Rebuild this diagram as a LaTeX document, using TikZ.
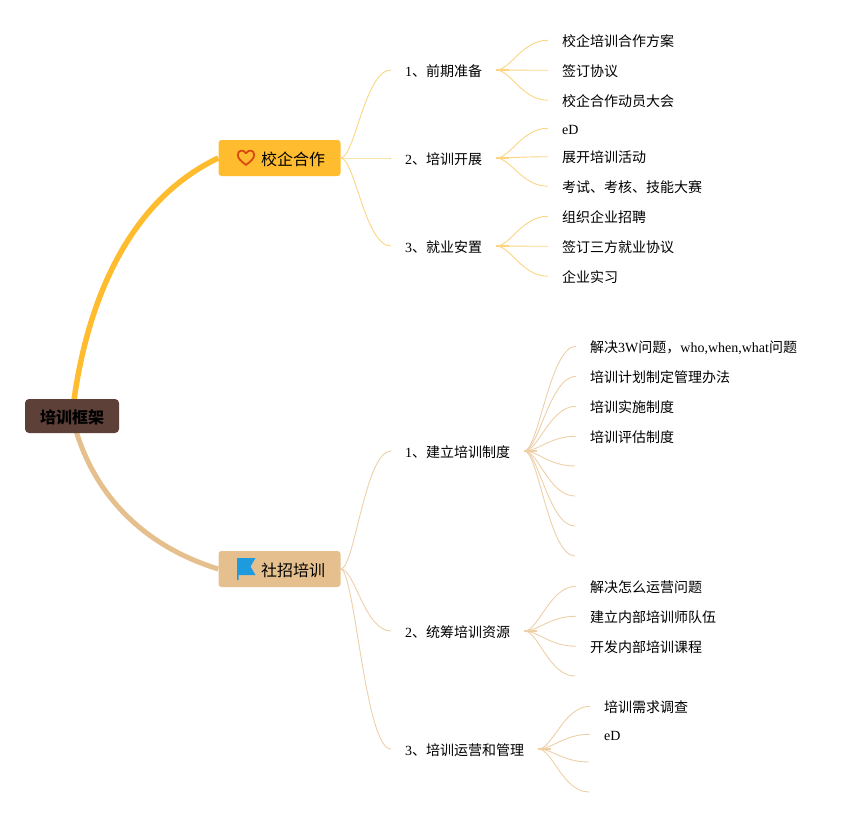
\documentclass[tikz,border=0pt]{standalone}
\usetikzlibrary{backgrounds}
\usepackage{fontspec}
\setmainfont{Liberation Serif}
\newfontfamily\zhf{Noto Sans CJK SC}
\newcommand{\zh}[1]{{\zhf #1}}
\definecolor{rootc}{HTML}{5D4037}
\definecolor{gold}{HTML}{FFBC2F}
\definecolor{tan}{HTML}{E5C08E}
\definecolor{goldl}{HTML}{FBD583}
\definecolor{tanl}{HTML}{EDCFA8}
\definecolor{heartc}{HTML}{D84A12}
\definecolor{flagc}{HTML}{1E9BDF}
\tikzset{
  x=1pt,y=-1pt,
  rootbox/.style={fill=rootc,rounded corners=4pt,minimum width=94pt,minimum height=34pt,inner sep=0pt,text height=14pt,text depth=0pt,font=\fontsize{16}{18}\selectfont\bfseries},
  topbox/.style={rounded corners=3pt,minimum width=122pt,minimum height=36pt,inner sep=0pt,text height=14pt,text depth=0pt,font=\fontsize{16}{18}\selectfont},
  item/.style={anchor=west,inner xsep=14pt,inner ysep=0pt,text height=13pt,text depth=1pt,font=\fontsize{14}{16}\selectfont},
  bigG/.style={draw=gold,line width=5.5pt},
  bigT/.style={draw=tan,line width=5pt},
  thinG/.style={draw=goldl,line width=.9pt},
  thinT/.style={draw=tanl,line width=.9pt},
  stubG/.style={draw=goldl,line width=1.6pt},
  stubT/.style={draw=tanl,line width=1.6pt},
}
\newcommand{\cv}[3]{\draw[#1] (#2) .. controls +(14,0) and +(-26,0) .. (#3);}
\begin{document}
\begin{tikzpicture}
\useasboundingbox (0,0) rectangle (857,817);
\node[rootbox] (root) at (72,416) {\zh{培训框架}};
\node[topbox,fill=gold] (a) at (279.5,158) {\hspace*{27pt}\zh{校企合作}};
\node[topbox,fill=tan] (b) at (279.5,569) {\hspace*{27pt}\zh{社招培训}};
\begin{scope}[on background layer]
\draw[bigG] (root.center) .. controls (85,300) and (130,200) .. (a.west);
\draw[bigT] (root.center) .. controls (92,500) and (150,548) .. (b.west);
\end{scope}
% icons
\draw[heartc,line width=1.8pt,line join=round] (246,165) .. controls (241,161) and (237.8,158.5) .. (237.8,154.8)
  .. controls (237.8,150) and (243.5,149) .. (246,153.3) .. controls (248.5,149) and (254.2,150) .. (254.2,154.8)
  .. controls (254.2,158.5) and (251,161) .. (246,165) -- cycle;
\fill[flagc] (237,558) -- (255.5,558) -- (250.5,566.5) -- (255.5,575) -- (238.5,575) -- (238.5,580) -- (237,580) -- cycle;
% second level, upper
\node[item] (a1) at (391,70) {1\zh{、前期准备}};
\node[item] (a3) at (391,158) {2\zh{、培训开展}};
\node[item] (a5) at (391,246) {3\zh{、就业安置}};
\foreach \n in {a1,a3,a5}{\cv{thinG}{a.east}{\n.west}}
% leaves, upper
\node[item] (a11) at (548,40.25) {\zh{校企培训合作方案}};
\node[item] (a12) at (548,70.25) {\zh{签订协议}};
\node[item] (a13) at (548,100.25) {\zh{校企合作动员大会}};
\node[item] (a31) at (548,128.25) {eD};
\node[item] (a32) at (548,156.75) {\zh{展开培训活动}};
\node[item] (a33) at (548,186.25) {\zh{考试、考核、技能大赛}};
\node[item] (a51) at (548,216.25) {\zh{组织企业招聘}};
\node[item] (a52) at (548,246.25) {\zh{签订三方就业协议}};
\node[item] (a53) at (548,276.25) {\zh{企业实习}};
\foreach \p in {a1,a3,a5}{
  \draw[stubG] (\p.east) -- ++(13,0);
  \foreach \k in {1,2,3}{\cv{thinG}{\p.east}{\p\k.west}}
}
% second level, lower
\node[item] (b1) at (391,451) {1\zh{、建立培训制度}};
\node[item] (b2) at (391,631) {2\zh{、统筹培训资源}};
\node[item] (b3) at (391,749) {3\zh{、培训运营和管理}};
\foreach \n in {b1,b2,b3}{\cv{thinT}{b.east}{\n.west}}
% leaves, lower
\node[item] (b11) at (576,346.25) {\zh{解决}3W\zh{问题，}who,when,what\zh{问题}};
\node[item] (b12) at (576,376.25) {\zh{培训计划制定管理办法}};
\node[item] (b13) at (576,406.25) {\zh{培训实施制度}};
\node[item] (b14) at (576,436.25) {\zh{培训评估制度}};
\coordinate (b15) at (575,466);
\coordinate (b16) at (575,496);
\coordinate (b17) at (575,526);
\coordinate (b18) at (575,556);
\node[item] (c1) at (576,586.25) {\zh{解决怎么运营问题}};
\node[item] (c2) at (576,616.25) {\zh{建立内部培训师队伍}};
\node[item] (c3) at (576,646.25) {\zh{开发内部培训课程}};
\coordinate (c4) at (575,676);
\node[item] (d1) at (590,706.25) {\zh{培训需求调查}};
\node[item] (d2) at (590,734.25) {eD};
\coordinate (d3) at (589,762);
\coordinate (d4) at (589,792);
\foreach \p in {b1,b2,b3}{\draw[stubT] (\p.east) -- ++(13,0);}
\foreach \k in {b11.west,b12.west,b13.west,b14.west,b15,b16,b17,b18}{\cv{thinT}{b1.east}{\k}}
\foreach \k in {c1.west,c2.west,c3.west,c4}{\cv{thinT}{b2.east}{\k}}
\foreach \k in {d1.west,d2.west,d3,d4}{\cv{thinT}{b3.east}{\k}}
\end{tikzpicture}
\end{document}
